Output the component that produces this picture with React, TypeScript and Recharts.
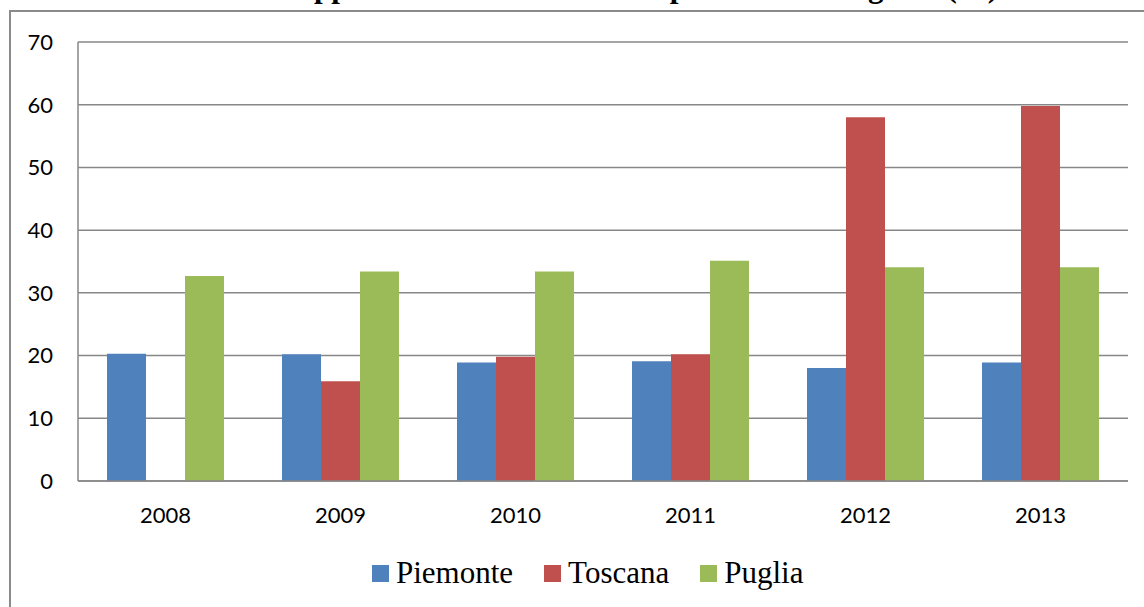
import React from 'react';
import { BarChart, Bar, XAxis, YAxis, CartesianGrid, Legend } from 'recharts';

const years = ['2008', '2009', '2010', '2011', '2012', '2013'];
const piemonte = [20.3, 20.2, 18.9, 19.1, 18.0, 18.9];
const toscana: (number | null)[] = [null, 15.9, 19.8, 20.2, 58.0, 59.8];
const puglia = [32.7, 33.4, 33.4, 35.1, 34.1, 34.1];
const yTicks = [0, 10, 20, 30, 40, 50, 60, 70];
const seriesNames = ['Piemonte', 'Toscana', 'Puglia'];
const seriesColors = ['#4F81BD', '#C0504D', '#9BBB59'];
const titleText = 'Rapporto tra le strutture ed i posti letto in regione (%)';

const data = years.map((y, i) => ({
  year: y,
  Piemonte: piemonte[i],
  Toscana: toscana[i],
  Puglia: puglia[i],
}));

const gridColor = '#878787';
const tickStyle = { fill: '#000', fontFamily: 'Lato, "Open Sans", sans-serif', fontSize: 22 };

const renderLegend = () => (
  <div
    style={{
      display: 'flex',
      alignItems: 'center',
      height: 32,
      paddingLeft: 372,
      fontFamily: '"Liberation Serif", "Times New Roman", serif',
      fontSize: 31,
      lineHeight: '32px',
      color: '#000',
      whiteSpace: 'nowrap',
    }}
  >
    {seriesNames.map((n, i) => (
      <div key={n} style={{ display: 'flex', alignItems: 'center', marginRight: 31 }}>
        <span
          style={{
            display: 'inline-block',
            width: 17,
            height: 17,
            background: seriesColors[i],
            marginRight: 7,
          }}
        />
        <span>{n}</span>
      </div>
    ))}
  </div>
);

export default function App() {
  return (
    <div
      style={{
        position: 'absolute',
        left: 0,
        top: 0,
        width: 1144,
        height: 607,
        overflow: 'hidden',
        background: '#fff',
      }}
    >
      <div
        style={{
          position: 'absolute',
          left: 9,
          top: 10,
          width: 1200,
          height: 700,
          borderLeft: '2px solid #8a8a8a',
          borderTop: '2px solid #8a8a8a',
          boxSizing: 'border-box',
        }}
      />
      <svg
        width={1144}
        height={20}
        style={{ position: 'absolute', left: 0, top: 0, overflow: 'hidden' }}
      >
        <text
          x={276}
          y={-3}
          fontFamily='"Liberation Serif", "Times New Roman", serif'
          fontWeight="bold"
          fontSize={31}
          fill="#000"
        >
          {titleText}
        </text>
      </svg>
      <div style={{ position: 'absolute', left: 0, top: 0 }}>
        <BarChart
          width={1144}
          height={607}
          data={data}
          margin={{ top: 42, right: 16, left: 0, bottom: 18 }}
          barCategoryGap={29}
          barGap={0}
        >
          <CartesianGrid
            horizontal
            vertical={false}
            stroke={gridColor}
            strokeWidth={1.5}
          />
          <XAxis
            dataKey="year"
            height={76}
            tickLine={false}
            tickSize={0}
            tickMargin={26}
            axisLine={{ stroke: gridColor, strokeWidth: 1.5 }}
            tick={tickStyle}
            interval={0}
          />
          <YAxis
            width={78}
            domain={[0, 70]}
            ticks={yTicks}
            tickLine={false}
            tickSize={0}
            tickMargin={25}
            axisLine={{ stroke: gridColor, strokeWidth: 1.5 }}
            tick={tickStyle}
            allowDataOverflow
          />
          <Legend
            verticalAlign="bottom"
            content={renderLegend}
            wrapperStyle={{ left: 0, top: 557, width: 1144, height: 32 }}
          />
          {seriesNames.map((n, i) => (
            <Bar key={n} dataKey={n} name={n} fill={seriesColors[i]} isAnimationActive={false} />
          ))}
        </BarChart>
      </div>
    </div>
  );
}
